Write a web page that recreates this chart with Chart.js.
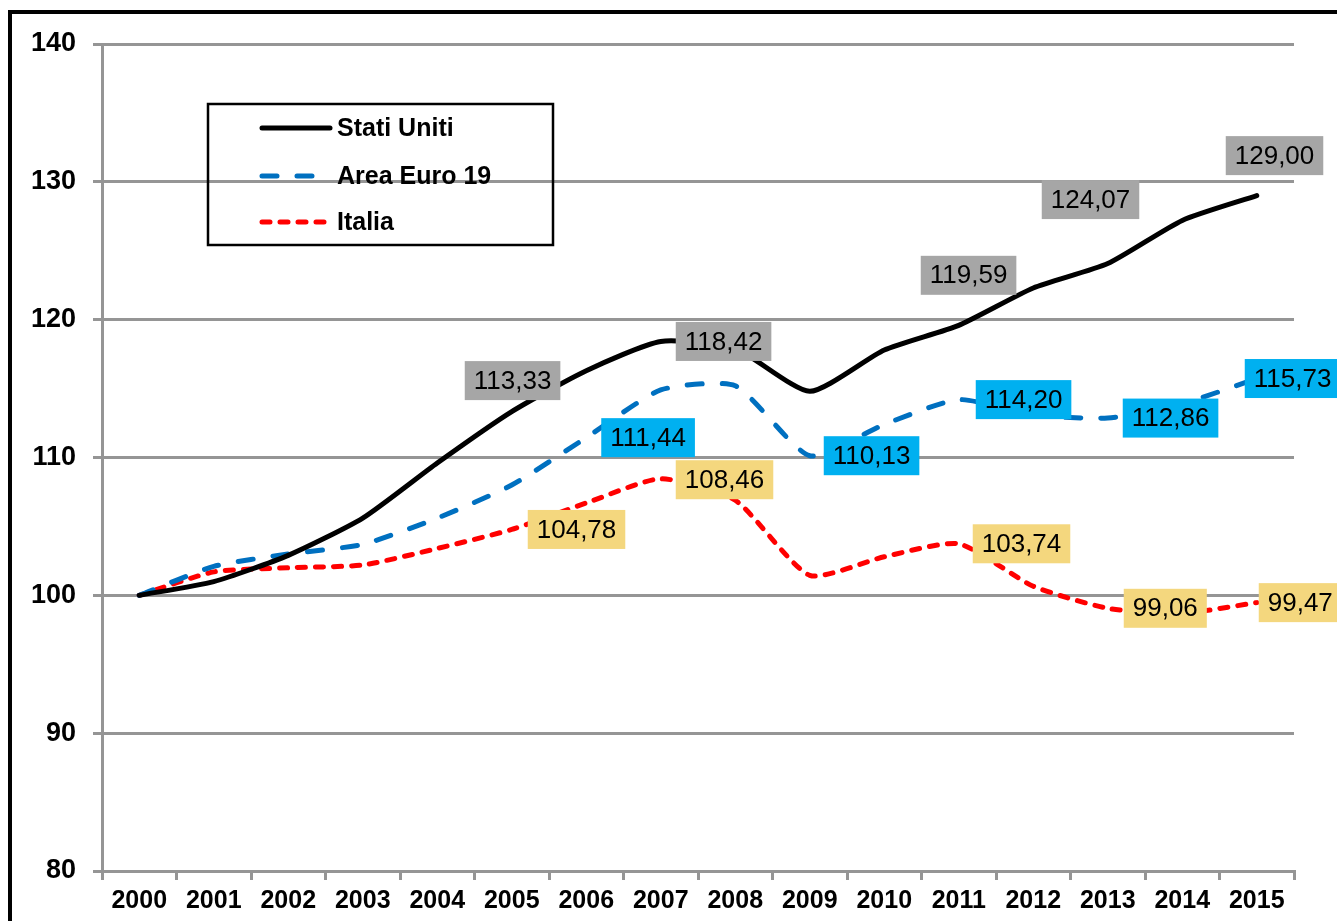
<!DOCTYPE html>
<html>
<head>
<meta charset="utf-8">
<script src="https://cdn.jsdelivr.net/npm/chart.js@4.4.1/dist/chart.umd.min.js"></script>
<style>
  html, body { margin: 0; padding: 0; background: #fff; }
  #wrap { width: 1337px; height: 921px; position: relative; }
</style>
</head>
<body>
<div id="wrap"><canvas id="myChart"></canvas></div>
<script>
// data
const years = ['2000', '2001', '2002', '2003', '2004', '2005', '2006', '2007',
  '2008', '2009', '2010', '2011', '2012', '2013', '2014', '2015'];
const statiUniti = [100, 101.0, 102.9, 105.6, 109.6, 113.33, 116.3, 118.42,
  117.9, 114.8, 117.8, 119.59, 122.3, 124.07, 127.2, 129.00];
const areaEuro = [100, 102.1, 103.0, 103.7, 105.6, 108.0, 111.44, 114.9,
  115.2, 110.13, 112.4, 114.20, 113.1, 112.86, 113.9, 115.73];
const italia = [100, 101.7, 102.0, 102.2, 103.4, 104.78, 106.7, 108.46,
  106.9, 101.45, 102.8, 103.74, 100.66, 99.06, 98.7, 99.47];
const seriesNames = ['Stati Uniti', 'Area Euro 19', 'Italia'];
const yMin = 80, yMax = 140, yStep = 10;

// which points carry a value box: [dataset, index, left offset, vertical offset]
const valueBoxes = [
  [0, 5, -47, -31], [0, 7, 15, 0], [0, 11, -38, -50], [0, 13, -66, -64], [0, 15, -31, -40],
  [1, 6, 15, 0], [1, 9, 14, 0], [1, 11, 17, 0], [1, 13, 15, 0], [1, 15, -12, 0],
  [2, 5, 16, 0], [2, 7, 15, 1], [2, 11, 14, 0], [2, 13, 16, 0], [2, 15, 2, 0],
];
const boxColors = ['#a6a6a6', '#00b0f0', '#f4d77e'];

const FONT = "'Liberation Sans', Arial, sans-serif";
const GRID = '#959595';

const frame = {
  id: 'frame',
  beforeDraw(chart) {
    const ctx = chart.ctx;
    ctx.save();
    ctx.fillStyle = '#fff';
    ctx.fillRect(0, 0, chart.width, chart.height);
    ctx.strokeStyle = '#000';
    ctx.lineWidth = 4;
    ctx.beginPath();
    ctx.moveTo(10, chart.height + 5);
    ctx.lineTo(10, 12);
    ctx.lineTo(chart.width + 5, 12);
    ctx.stroke();
    ctx.restore();
  }
};

const valueLabels = {
  id: 'valueLabels',
  afterDatasetsDraw(chart) {
    const ctx = chart.ctx;
    ctx.save();
    ctx.font = '26px ' + FONT;
    ctx.textBaseline = 'middle';
    ctx.textAlign = 'left';
    valueBoxes.forEach(([ds, i, dx, dy]) => {
      const pt = chart.getDatasetMeta(ds).data[i];
      const txt = chart.data.datasets[ds].data[i].toFixed(2).replace('.', ',');
      const w = ctx.measureText(txt).width + 18;
      const h = 39;
      const x = pt.x + dx;
      const y = pt.y + dy;
      ctx.fillStyle = boxColors[ds];
      ctx.fillRect(x, y - h / 2, w, h);
      ctx.fillStyle = '#000';
      ctx.fillText(txt, x + 9, y + 1);
    });
    ctx.restore();
  }
};

const boxLegend = {
  id: 'boxLegend',
  afterDraw(chart) {
    const ctx = chart.ctx;
    ctx.save();
    ctx.strokeStyle = '#000';
    ctx.lineWidth = 2.5;
    ctx.strokeRect(208, 104, 345, 141);
    const rows = [128, 176, 222];
    chart.data.datasets.forEach((d, k) => {
      ctx.strokeStyle = d.borderColor;
      ctx.lineWidth = d.borderWidth;
      ctx.lineCap = 'round';
      ctx.setLineDash(d.borderDash || []);
      ctx.beginPath();
      ctx.moveTo(262, rows[k]);
      ctx.lineTo(330, rows[k]);
      ctx.stroke();
      ctx.setLineDash([]);
      ctx.fillStyle = '#000';
      ctx.font = 'bold 25px ' + FONT;
      ctx.textBaseline = 'middle';
      ctx.fillText(d.label, 337, rows[k] + 1);
    });
    ctx.restore();
  }
};

const data = {
  labels: years,
  datasets: [
    { label: seriesNames[0], data: statiUniti, borderColor: '#000000', borderWidth: 5 },
    { label: seriesNames[1], data: areaEuro, borderColor: '#0070c0', borderWidth: 5, borderDash: [15, 20] },
    { label: seriesNames[2], data: italia, borderColor: '#ff0000', borderWidth: 5, borderDash: [8, 10] },
  ].map(d => Object.assign(d, {
    fill: false, pointRadius: 0, tension: 0.2, borderCapStyle: 'round', borderJoinStyle: 'round'
  })),
};

const config = {
  type: 'line',
  data: data,
  options: {
    responsive: true,
    maintainAspectRatio: false,
    animation: false,
    layout: { padding: { top: 44, right: 43, left: 0, bottom: 0 } },
    plugins: {
      legend: { display: false },
      tooltip: { enabled: false },
    },
    scales: {
      x: {
        offset: true,
        grid: { offset: true, drawOnChartArea: false, drawTicks: true, tickLength: 9, color: GRID, lineWidth: 3 },
        border: { display: true, color: GRID, width: 3 },
        ticks: { color: '#000', font: { family: FONT, size: 25, weight: 'bold' }, padding: 6, maxRotation: 0, autoSkip: false },
        afterFit(scale) { scale.height = 50; },
      },
      y: {
        min: yMin,
        max: yMax,
        grid: { color: GRID, lineWidth: 3, tickLength: 9 },
        border: { display: true, color: GRID, width: 3 },
        ticks: { stepSize: yStep, color: '#000', font: { family: FONT, size: 27, weight: 'bold' }, padding: 17 },
        afterFit(scale) { scale.width = 102; },
      },
    },
  },
  plugins: [frame, valueLabels, boxLegend],
};

const myChart = new Chart(document.getElementById('myChart'), config);
</script>
</body>
</html>
